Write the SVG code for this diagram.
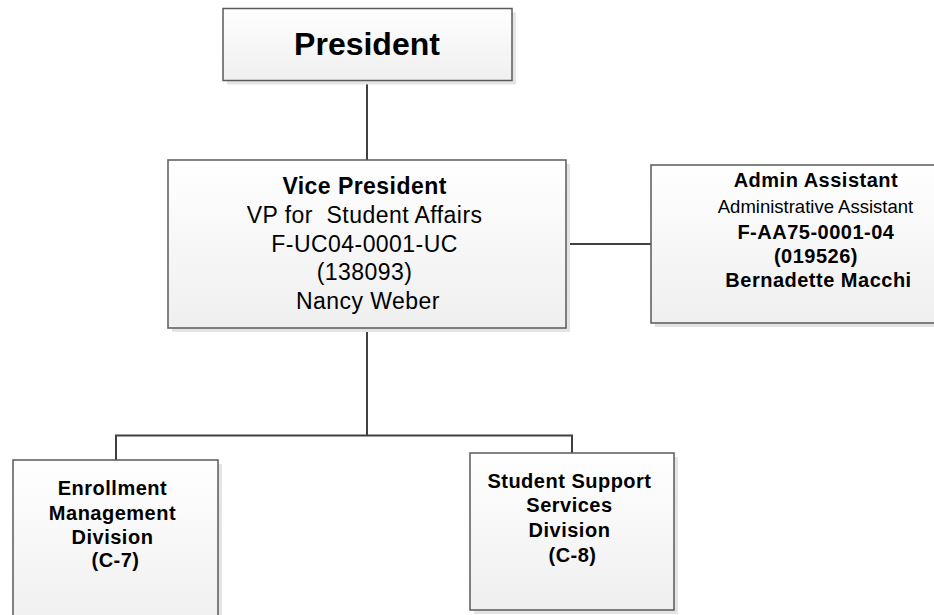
<svg xmlns="http://www.w3.org/2000/svg" width="934" height="615" viewBox="0 0 934 615">
  <defs>
    <linearGradient id="boxFill" x1="0" y1="0" x2="0" y2="1">
      <stop offset="0" stop-color="#ffffff"/>
      <stop offset="1" stop-color="#efefef"/>
    </linearGradient>
  </defs>
  <style>
    .shadow { fill: #e4e4e4; }
    .box { fill: url(#boxFill); stroke: #5a5a5a; stroke-width: 1.5; }
    .conn { fill: none; stroke: #404040; stroke-width: 2; }
    text { font-family: "Liberation Sans", Arial, sans-serif; fill: #000; text-anchor: middle; }
    .b { font-weight: bold; }
    .vp { font-size: 23px; letter-spacing: 0.45px; }
    .sm { font-size: 18.5px; }
    .sm .b, .sm.b { font-size: 20px; letter-spacing: 0.5px; }
  </style>

  <rect width="934" height="615" fill="#ffffff"/>

  <!-- reporting lines -->
  <g id="connectors">
    <line class="conn" x1="367" y1="80.5" x2="367" y2="160"/>
    <line class="conn" x1="566" y1="244" x2="651" y2="244"/>
    <line class="conn" x1="367" y1="328" x2="367" y2="435.5"/>
    <polyline class="conn" points="116,460 116,435.5 572,435.5 572,453"/>
  </g>

  <g id="president">
    <rect class="shadow" x="227" y="12.5" width="289" height="72"/>
    <rect class="box" x="223" y="8.5" width="289" height="72"/>
    <text class="b" x="367" y="55" font-size="32">President</text>
  </g>

  <g id="vice-president">
    <rect class="shadow" x="172" y="164" width="398" height="168"/>
    <rect class="box" x="168" y="160" width="398" height="168"/>
    <text class="vp">
      <tspan class="b" x="368" y="193.5">Vice President</tspan>
      <tspan x="368" y="222.5" xml:space="preserve">VP for  Student Affairs</tspan>
      <tspan x="368" y="251.5">F-UC04-0001-UC</tspan>
      <tspan x="368" y="280">(138093)</tspan>
      <tspan x="368" y="308.5">Nancy Weber</tspan>
    </text>
  </g>

  <g id="admin-assistant">
    <rect class="shadow" x="655" y="169" width="334" height="158"/>
    <rect class="box" x="651" y="165" width="334" height="158"/>
    <text class="sm">
      <tspan class="b" x="818.5" y="187">Admin Assistant</tspan>
      <tspan x="818" y="213">Administrative Assistant</tspan>
      <tspan class="b" x="818.5" y="238.5">F-AA75-0001-04</tspan>
      <tspan class="b" x="818.5" y="262.5">(019526)</tspan>
      <tspan class="b" x="818.5" y="287">Bernadette Macchi</tspan>
    </text>
  </g>

  <g id="enrollment-management">
    <rect class="shadow" x="17" y="464" width="205" height="170"/>
    <rect class="box" x="13" y="460" width="205" height="170"/>
    <text class="sm b">
      <tspan x="115.5" y="495">Enrollment</tspan>
      <tspan x="115.5" y="519.5">Management</tspan>
      <tspan x="115.5" y="543.5">Division</tspan>
      <tspan x="115.5" y="567">(C-7)</tspan>
    </text>
  </g>

  <g id="student-support-services">
    <rect class="shadow" x="474" y="457" width="204" height="157"/>
    <rect class="box" x="470" y="453" width="204" height="157"/>
    <text class="sm b">
      <tspan x="572.5" y="487.5">Student Support</tspan>
      <tspan x="572.5" y="512">Services</tspan>
      <tspan x="572.5" y="537">Division</tspan>
      <tspan x="572.5" y="561.5">(C-8)</tspan>
    </text>
  </g>
</svg>
